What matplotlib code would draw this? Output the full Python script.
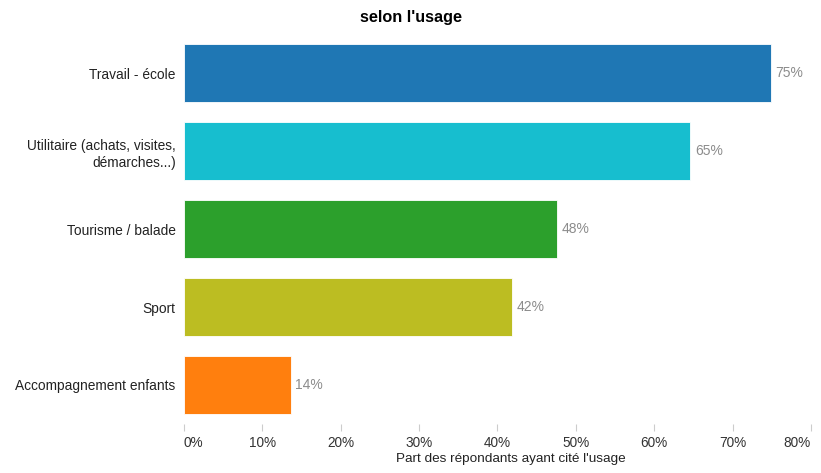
import matplotlib.pyplot as plt
from matplotlib.ticker import FuncFormatter

plt.rcParams['font.family'] = ['Liberation Sans', 'DejaVu Sans']

usages = ["Travail - école", "Utilitaire (achats, visites,\ndémarches...)",
          "Tourisme / balade", "Sport", "Accompagnement enfants"]
parts = [74.9, 64.6, 47.6, 41.9, 13.6]
couleurs = ["#1f77b4", "#17becf", "#2ca02c", "#bcbd22", "#ff7f0e"]
ticks = [0, 10, 20, 30, 40, 50, 60, 70, 80]

fig = plt.figure(figsize=(8.21, 4.73), dpi=100)
ax = fig.add_axes([0.2241, 0.1036, 0.7637, 0.8245])

y = list(range(len(usages)))
ax.barh(y, parts, height=0.745, color=couleurs, edgecolor="white", linewidth=0.6)
for yi, v in zip(y, parts):
    ax.text(v + 0.6, yi, f"{round(v)}%", va="center", ha="left", fontsize=10, color="#8c8c8c")

ax.set_yticks(y)
ax.set_yticklabels(usages, fontsize=9.9, color="#222222", ha="right",
                   multialignment="right", linespacing=1.35)
ax.set_ylim(len(usages) - 0.5, -0.5)
ax.set_xlim(0, 80)
ax.set_xticks(ticks)
ax.xaxis.set_major_formatter(FuncFormatter(lambda v, p: f"{int(v)}%"))
ax.tick_params(axis="x", length=5, color="#cccccc", labelsize=9.8, labelcolor="#333333", pad=4)
ax.tick_params(axis="y", length=0, pad=6)
for s in ax.spines.values():
    s.set_visible(False)

# first label sits right of its tick, last one kept inside the figure
labels = ax.get_xticklabels()
labels[0].set_horizontalalignment("left")
labels[-1].set_horizontalalignment("right")

ax.set_xlabel("Part des répondants ayant cité l'usage", fontsize=9.7, color="#222222",
              labelpad=2, x=0.522)
fig.suptitle("selon l'usage", fontsize=11.7, fontweight="bold", x=0.5, y=0.978)

fig.savefig("out.png", dpi=100)
